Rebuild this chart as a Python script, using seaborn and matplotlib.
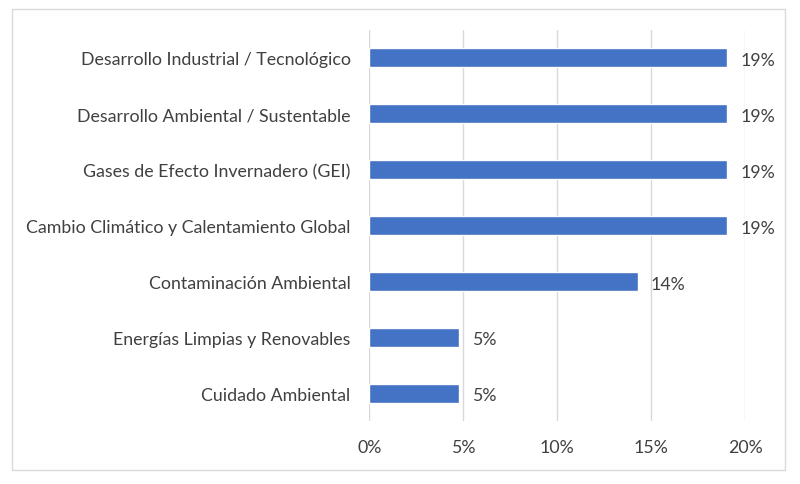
import matplotlib
matplotlib.use('Agg')
import pandas as pd
import seaborn as sns
import matplotlib.pyplot as plt
from matplotlib.patches import Rectangle
from matplotlib.ticker import PercentFormatter

# Categories and their shares (shown as percentages)
categorias = [
    'Desarrollo Industrial / Tecnológico',
    'Desarrollo Ambiental / Sustentable',
    'Gases de Efecto Invernadero (GEI)',
    'Cambio Climático y Calentamiento Global',
    'Contaminación Ambiental',
    'Energías Limpias y Renovables',
    'Cuidado Ambiental',
]
porcentajes = [19.05, 19.05, 19.05, 19.05, 14.29, 4.76, 4.76]
etiquetas = ['19%', '19%', '19%', '19%', '14%', '5%', '5%']

df = pd.DataFrame({'categoria': categorias, 'porcentaje': porcentajes})

sns.set_style('white')
plt.rcParams['font.family'] = ['Lato', 'DejaVu Sans']

fig = plt.figure(figsize=(8, 4.85), dpi=100)
ax = fig.add_axes([0.4616, 0.13, 0.4697, 0.806])

sns.barplot(data=df, x='porcentaje', y='categoria', color='#4472C4',
            width=0.34, saturation=1, ax=ax, zorder=3)

# value labels to the right of each bar
for bar, txt in zip(ax.patches, etiquetas):
    ax.text(bar.get_width() + 0.7, bar.get_y() + bar.get_height() / 2 + 0.04, txt,
            va='center', ha='left', fontsize=12.8, color='#404040')

ax.set_xlim(0, 20)
ax.set_xticks([0, 5, 10, 15, 20])
ax.xaxis.set_major_formatter(PercentFormatter(decimals=0))
ax.grid(axis='x', color='#D9D9D9', linewidth=1, zorder=0)
ax.set_xlabel('')
ax.set_ylabel('')
ax.tick_params(axis='both', length=0, labelsize=12.8, labelcolor='#404040')
ax.tick_params(axis='x', pad=13)
ax.tick_params(axis='y', pad=13.5)
for s in ax.spines.values():
    s.set_visible(False)

# light frame around the whole chart
fig.patches.append(Rectangle((12 / 800, 1 - 471 / 485), 773 / 800, 461 / 485,
                             transform=fig.transFigure, fill=False,
                             edgecolor='#D9D9D9', linewidth=1))

fig.savefig('out.png', dpi=100)
